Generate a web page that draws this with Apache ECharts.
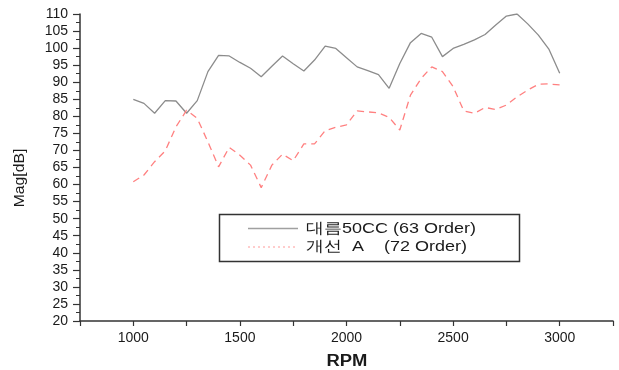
<!DOCTYPE html>
<html>
<head>
<meta charset="utf-8">
<script src="https://cdn.jsdelivr.net/npm/echarts@6/dist/echarts.min.js"></script>
<style>
  html, body { margin: 0; padding: 0; background: #fff; }
  #chart { width: 619px; height: 370px; }
</style>
</head>
<body>
<div id="chart"></div>
<script>
// Engine speed sampling points (RPM)
const rpm = [1000, 1050, 1100, 1150, 1200, 1250, 1300, 1350, 1400, 1450,
             1500, 1550, 1600, 1650, 1700, 1750, 1800, 1850, 1900, 1950,
             2000, 2050, 2100, 2150, 2200, 2250, 2300, 2350, 2400, 2450,
             2500, 2550, 2600, 2650, 2700, 2750, 2800, 2850, 2900, 2950, 3000];

// Baseline: 대름50CC, 63rd order magnitude [dB]
const baseline63 = [85.0, 83.8, 80.9, 84.6, 84.5, 80.9, 84.6, 93.1, 97.9, 97.7,
                    95.8, 94.1, 91.6, 94.7, 97.7, 95.4, 93.3, 96.5, 100.6, 99.9,
                    97.2, 94.5, 93.4, 92.2, 88.2, 95.5, 101.6, 104.3, 103.2, 97.5,
                    99.9, 101.1, 102.4, 104.0, 106.8, 109.4, 110.0, 107.1, 103.8, 99.6, 92.6];

// Improved design A, 72nd order magnitude [dB]
const improvedA72 = [60.8, 62.8, 66.7, 69.9, 76.9, 81.8, 79.4, 72.5, 65.2, 70.9,
                     68.6, 65.7, 59.1, 65.7, 68.9, 67.0, 71.9, 71.9, 75.8, 76.8,
                     77.5, 81.6, 81.3, 81.0, 79.7, 76.0, 86.2, 91.1, 94.5, 93.1,
                     88.7, 81.6, 80.9, 82.6, 82.0, 83.3, 85.7, 87.7, 89.4, 89.5, 89.2];

const seriesNames = ['대름50CC (63 Order)', '개선  A    (72 Order)'];

const pair = (ys) => rpm.map((x, i) => [x, ys[i]]);

const chart = echarts.init(document.getElementById('chart'));
const axisColor = '#333';
const textColor = '#1a1a1a';
const font = 'Liberation Sans, Arial, sans-serif';
const greyLine = '#8c8c8c';
const redLine = '#ff8080';

// Legend drawn as a framed key with line samples
function legendGraphics() {
  const rowY = [228.5, 247];
  const els = [{
    type: 'rect',
    shape: { x: 219.5, y: 214.5, width: 300, height: 47 },
    style: { fill: '#fff', stroke: '#333', lineWidth: 1.5 },
    z: 10
  }];
  const styles = [
    { stroke: '#a0a0a0', lineWidth: 1.5 },
    { stroke: '#ff9a9a', lineWidth: 1.2, lineDash: [2, 3] }
  ];
  seriesNames.forEach((name, i) => {
    els.push({
      type: 'line',
      shape: { x1: 248, y1: rowY[i], x2: 298, y2: rowY[i] },
      style: styles[i],
      z: 11
    });
    els.push({
      type: 'text',
      x: 306, y: rowY[i], scaleX: 1.2,
      style: {
        text: name, fontFamily: font, fontSize: 15, fill: textColor,
        align: 'left', verticalAlign: 'middle'
      },
      z: 11
    });
  });
  return els;
}

chart.setOption({
  animation: false,
  backgroundColor: '#fff',
  grid: { left: 80, top: 14, right: 6, bottom: 49, containLabel: false },
  xAxis: {
    type: 'value',
    min: 750, max: 3250, interval: 250,
    axisLine: { lineStyle: { color: axisColor, width: 1.5 } },
    axisTick: { show: true, length: 5, lineStyle: { color: axisColor, width: 1.2 } },
    axisLabel: {
      fontFamily: font, fontSize: 14, color: textColor, margin: 10,
      formatter: (v) => (v % 500 === 0 && v >= 1000 && v <= 3000) ? String(v) : ''
    },
    splitLine: { show: false }
  },
  yAxis: {
    type: 'value',
    min: 20, max: 110, interval: 5,
    axisLine: { show: true, lineStyle: { color: axisColor, width: 1.5 } },
    axisTick: { show: true, length: 7, lineStyle: { color: axisColor, width: 1.2 } },
    minorTick: { show: true, splitNumber: 2, length: 4, lineStyle: { color: axisColor, width: 1 } },
    axisLabel: { fontFamily: font, fontSize: 14, color: textColor, margin: 12 },
    splitLine: { show: false }
  },
  graphic: legendGraphics().concat([
    {
      type: 'text',
      x: 20, y: 178, rotation: Math.PI / 2, scaleX: 1.05,
      style: {
        text: 'Mag[dB]', fontFamily: font, fontSize: 15, fill: textColor,
        align: 'center', verticalAlign: 'middle'
      },
      z: 10
    },
    {
      type: 'text',
      x: 347, y: 362, scaleX: 1.15,
      style: {
        text: 'RPM', fontFamily: font, fontSize: 16, fontWeight: 'bold', fill: textColor,
        align: 'center', verticalAlign: 'middle'
      },
      z: 10
    }
  ]),
  series: [
    {
      name: seriesNames[0],
      type: 'line',
      data: pair(baseline63),
      symbol: 'none',
      lineStyle: { color: greyLine, width: 1.3 },
      itemStyle: { color: greyLine }
    },
    {
      name: seriesNames[1],
      type: 'line',
      data: pair(improvedA72),
      symbol: 'none',
      lineStyle: { color: redLine, width: 1.3, type: [7, 5] },
      itemStyle: { color: redLine }
    }
  ]
});
</script>
</body>
</html>
